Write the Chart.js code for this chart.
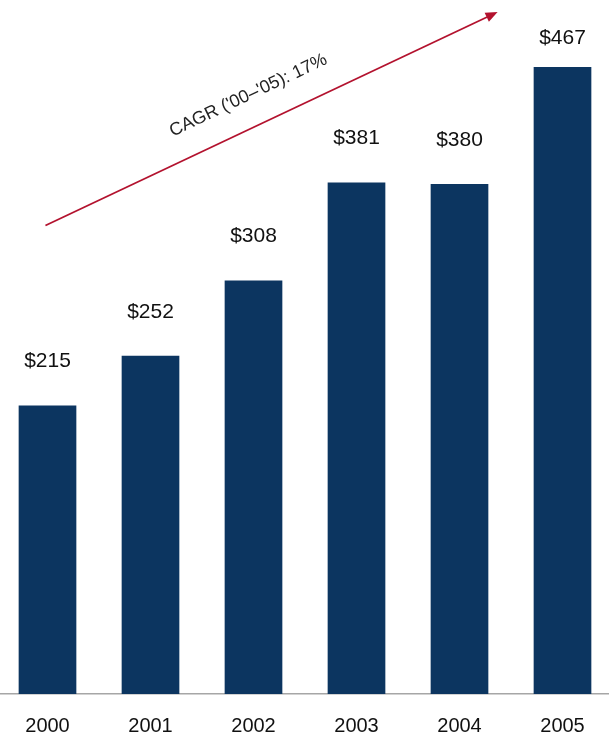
<!DOCTYPE html>
<html>
<head>
<meta charset="utf-8">
<script src="https://cdn.jsdelivr.net/npm/chart.js@4/dist/chart.umd.min.js"></script>
<style>
  html, body { margin: 0; padding: 0; background: #fff; overflow: hidden; }
  #wrap { position: relative; width: 609px; height: 740px; overflow: hidden; }
  #revChart { position: absolute; left: -4px; top: 0; }
</style>
</head>
<body>
<div id="wrap"><canvas id="revChart" width="618" height="761"></canvas></div>
<script>
// data
const years = ['2000', '2001', '2002', '2003', '2004', '2005'];
const revenue = [215, 252, 308, 381, 380, 467];
const valueLabels = ['$215', '$252', '$308', '$381', '$380', '$467'];
const cagrText = "CAGR ('00\u2013'05): 17%";
// arrow ends given in chart units: [category index, value]
const arrowFrom = [-0.02, 349];
const arrowTo = [4.37, 508];

const barColor = '#0c3560';
const arrowColor = '#b3122e';

// value labels over bars
const barLabels = {
  id: 'barLabels',
  afterDatasetsDraw(chart) {
    const ctx = chart.ctx;
    const meta = chart.getDatasetMeta(0);
    ctx.save();
    ctx.font = '21px "Liberation Sans", Arial, sans-serif';
    ctx.fillStyle = '#111';
    ctx.textAlign = 'center';
    ctx.textBaseline = 'middle';
    meta.data.forEach((bar, i) => {
      let y = bar.y - 44;
      if (y < 38) y = 38;
      ctx.fillText(valueLabels[i], bar.x, y);
    });
    ctx.restore();
  }
};

// growth arrow + CAGR text
const cagrArrow = {
  id: 'cagrArrow',
  afterDatasetsDraw(chart) {
    const ctx = chart.ctx;
    const xs = chart.scales.x, ys = chart.scales.y;
    const x1 = xs.getPixelForValue(arrowFrom[0]), y1 = ys.getPixelForValue(arrowFrom[1]);
    const x2 = xs.getPixelForValue(arrowTo[0]), y2 = ys.getPixelForValue(arrowTo[1]);
    const ang = Math.atan2(y2 - y1, x2 - x1);
    ctx.save();
    ctx.strokeStyle = arrowColor;
    ctx.fillStyle = arrowColor;
    ctx.lineWidth = 1.8;
    ctx.beginPath();
    ctx.moveTo(x1, y1);
    ctx.lineTo(x2 - 8 * Math.cos(ang), y2 - 8 * Math.sin(ang));
    ctx.stroke();
    // head
    ctx.translate(x2, y2);
    ctx.rotate(ang);
    ctx.beginPath();
    ctx.moveTo(0, 0);
    ctx.lineTo(-12, -5);
    ctx.lineTo(-12, 5);
    ctx.closePath();
    ctx.fill();
    ctx.restore();

    // label sits above the line
    const t = 0.478;
    const px = x1 + (x2 - x1) * t, py = y1 + (y2 - y1) * t;
    ctx.save();
    ctx.translate(px + 31 * Math.sin(ang), py - 31 * Math.cos(ang));
    ctx.rotate(ang);
    ctx.font = '18px "Liberation Sans", Arial, sans-serif';
    ctx.fillStyle = '#222';
    ctx.textAlign = 'center';
    ctx.textBaseline = 'middle';
    ctx.fillText(cagrText, 0, 0);
    ctx.restore();
  }
};

new Chart(document.getElementById('revChart'), {
  type: 'bar',
  data: {
    labels: years,
    datasets: [{
      data: revenue,
      backgroundColor: barColor,
      borderWidth: 0,
      barPercentage: 0.56,
      categoryPercentage: 1
    }]
  },
  options: {
    responsive: false,
    animation: false,
    layout: { padding: { left: 0, right: 0, top: 0, bottom: 3 } },
    plugins: {
      legend: { display: false },
      tooltip: { enabled: false }
    },
    scales: {
      x: {
        grid: { display: false, drawTicks: false },
        border: { display: true, color: '#a6a6a6', width: 1.5 },
        ticks: {
          padding: 20,
          color: '#111',
          font: { family: '"Liberation Sans", Arial, sans-serif', size: 20 }
        }
      },
      y: {
        display: false,
        min: 0,
        max: 517
      }
    }
  },
  plugins: [barLabels, cagrArrow]
});
</script>
</body>
</html>
